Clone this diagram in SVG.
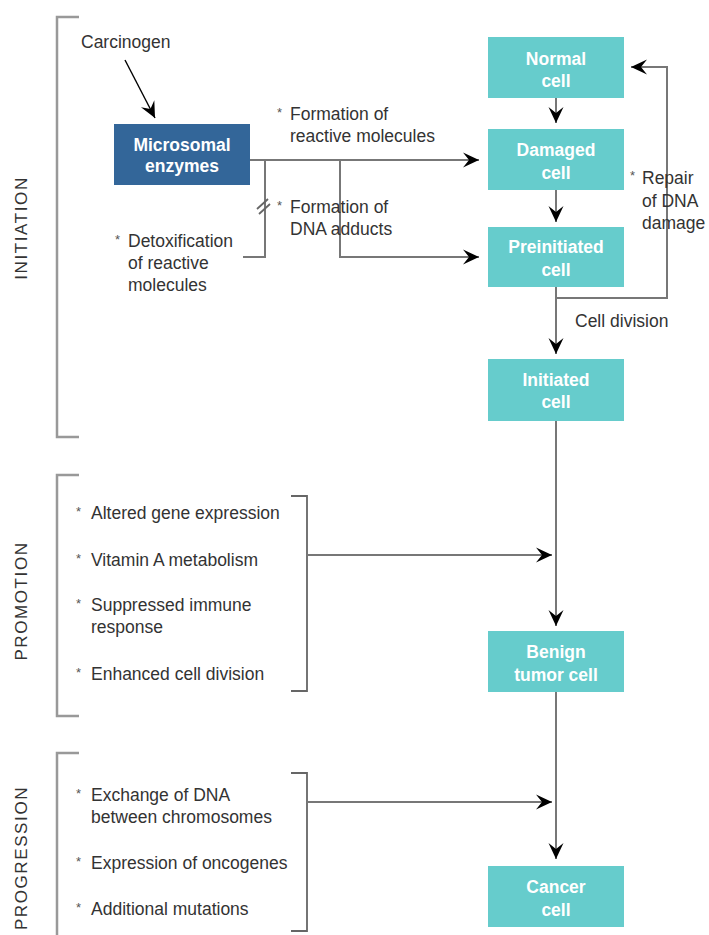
<svg xmlns="http://www.w3.org/2000/svg" width="709" height="935" viewBox="0 0 709 935">
<style>
  .t { font-family: "Liberation Sans", Arial, sans-serif; font-size: 17.5px; fill: #333; }
  .s { font-family: "Liberation Sans", Arial, sans-serif; font-size: 13px; fill: #555; }
  .bt { font-family: "Liberation Sans", Arial, sans-serif; font-size: 17.5px; font-weight: bold; fill: #fff; text-anchor: middle; }
  .lab { font-family: "Liberation Sans", Arial, sans-serif; font-size: 17px; fill: #333; text-anchor: middle; letter-spacing: 1.6px; }
  .cell { fill: #66cccc; }
  .ln { fill: none; stroke: #777; stroke-width: 2; }
  .br { fill: none; stroke: #999; stroke-width: 2.5; }
  .brk { fill: none; stroke: #666; stroke-width: 1.8; }
</style>
<defs>
  <marker id="ah" viewBox="-17 -8 18 16" markerUnits="userSpaceOnUse" markerWidth="18" markerHeight="16" refX="0" refY="0" orient="auto">
    <path d="M-16,-7.5 L0,0 L-16,7.5 L-10,0 Z" fill="#000"/>
  </marker>
</defs>
<rect width="709" height="935" fill="#fff"/>

<g id="brackets">
  <path class="br" d="M79,17 H57 V437 H79"/>
  <path class="br" d="M79,475 H57 V716 H79"/>
  <path class="br" d="M79,753 H57 V940"/>
  <path class="brk" d="M291,496 H307 V691 H291"/>
  <path class="brk" d="M291,773 H307 V931 H291"/>
</g>

<g id="stage-labels">
  <text class="lab" transform="translate(27,228) rotate(-90)">INITIATION</text>
  <text class="lab" transform="translate(27,601) rotate(-90)">PROMOTION</text>
  <text class="lab" transform="translate(27,858) rotate(-90)">PROGRESSION</text>
</g>

<g id="connectors">
  <line x1="125" y1="60" x2="155" y2="118" stroke="#000" stroke-width="1.4" marker-end="url(#ah)"/>
  <line class="ln" x1="250" y1="160" x2="479" y2="160" marker-end="url(#ah)"/>
  <path class="ln" d="M265,160 V257 H243"/>
  <path class="brk" d="M257,209 L268,199 M259,214 L270,204"/>
  <path class="ln" d="M340,160 V257 H479" marker-end="url(#ah)"/>
  <line class="ln" x1="556" y1="98" x2="556" y2="123" marker-end="url(#ah)"/>
  <line class="ln" x1="556" y1="190" x2="556" y2="222" marker-end="url(#ah)"/>
  <line class="ln" x1="556" y1="287" x2="556" y2="354" marker-end="url(#ah)"/>
  <path class="ln" d="M556,298 H667 V67 H631" marker-end="url(#ah)"/>
  <line class="ln" x1="556" y1="421" x2="556" y2="626" marker-end="url(#ah)"/>
  <line class="ln" x1="307" y1="555" x2="552" y2="555" marker-end="url(#ah)"/>
  <line class="ln" x1="556" y1="692" x2="556" y2="859" marker-end="url(#ah)"/>
  <line class="ln" x1="307" y1="802" x2="552" y2="802" marker-end="url(#ah)"/>
</g>

<g id="carcinogen"><text class="t" x="81" y="48">Carcinogen</text></g>

<g id="microsomal">
  <rect x="114" y="124" width="136" height="61" fill="#336699"/>
  <text class="bt" x="182" y="151">Microsomal</text>
  <text class="bt" x="182" y="172">enzymes</text>
</g>

<g id="normal"><rect class="cell" x="488" y="37" width="136" height="61"/>
  <text class="bt" x="556" y="65">Normal</text><text class="bt" x="556" y="87">cell</text></g>
<g id="damaged"><rect class="cell" x="488" y="129" width="136" height="61"/>
  <text class="bt" x="556" y="156">Damaged</text><text class="bt" x="556" y="179">cell</text></g>
<g id="preinitiated"><rect class="cell" x="488" y="227" width="136" height="60"/>
  <text class="bt" x="556" y="253">Preinitiated</text><text class="bt" x="556" y="276">cell</text></g>
<g id="initiated"><rect class="cell" x="488" y="359" width="136" height="62"/>
  <text class="bt" x="556" y="386">Initiated</text><text class="bt" x="556" y="408">cell</text></g>
<g id="benign"><rect class="cell" x="488" y="631" width="136" height="61"/>
  <text class="bt" x="556" y="658">Benign</text><text class="bt" x="556" y="681">tumor cell</text></g>
<g id="cancer"><rect class="cell" x="488" y="866" width="136" height="61"/>
  <text class="bt" x="556" y="893">Cancer</text><text class="bt" x="556" y="916">cell</text></g>

<g id="labels">
  <text class="s" x="277" y="117">*</text>
  <text class="t" x="290" y="120">Formation of</text>
  <text class="t" x="290" y="142">reactive molecules</text>
  <text class="s" x="277" y="210">*</text>
  <text class="t" x="290" y="213">Formation of</text>
  <text class="t" x="290" y="235">DNA adducts</text>
  <text class="s" x="115" y="244">*</text>
  <text class="t" x="128" y="247">Detoxification</text>
  <text class="t" x="128" y="269">of reactive</text>
  <text class="t" x="128" y="291">molecules</text>
  <text class="s" x="630" y="180">*</text>
  <text class="t" x="642" y="184">Repair</text>
  <text class="t" x="642" y="207">of DNA</text>
  <text class="t" x="642" y="229">damage</text>
  <text class="t" x="575" y="327">Cell division</text>

  <text class="s" x="76" y="516">*</text>
  <text class="t" x="91" y="519">Altered gene expression</text>
  <text class="s" x="76" y="563">*</text>
  <text class="t" x="91" y="566">Vitamin A metabolism</text>
  <text class="s" x="76" y="608">*</text>
  <text class="t" x="91" y="611">Suppressed immune</text>
  <text class="t" x="91" y="633">response</text>
  <text class="s" x="76" y="677">*</text>
  <text class="t" x="91" y="680">Enhanced cell division</text>

  <text class="s" x="76" y="798">*</text>
  <text class="t" x="91" y="801">Exchange of DNA</text>
  <text class="t" x="91" y="823">between chromosomes</text>
  <text class="s" x="76" y="866">*</text>
  <text class="t" x="91" y="869">Expression of oncogenes</text>
  <text class="s" x="76" y="912">*</text>
  <text class="t" x="91" y="915">Additional mutations</text>
</g>
</svg>
